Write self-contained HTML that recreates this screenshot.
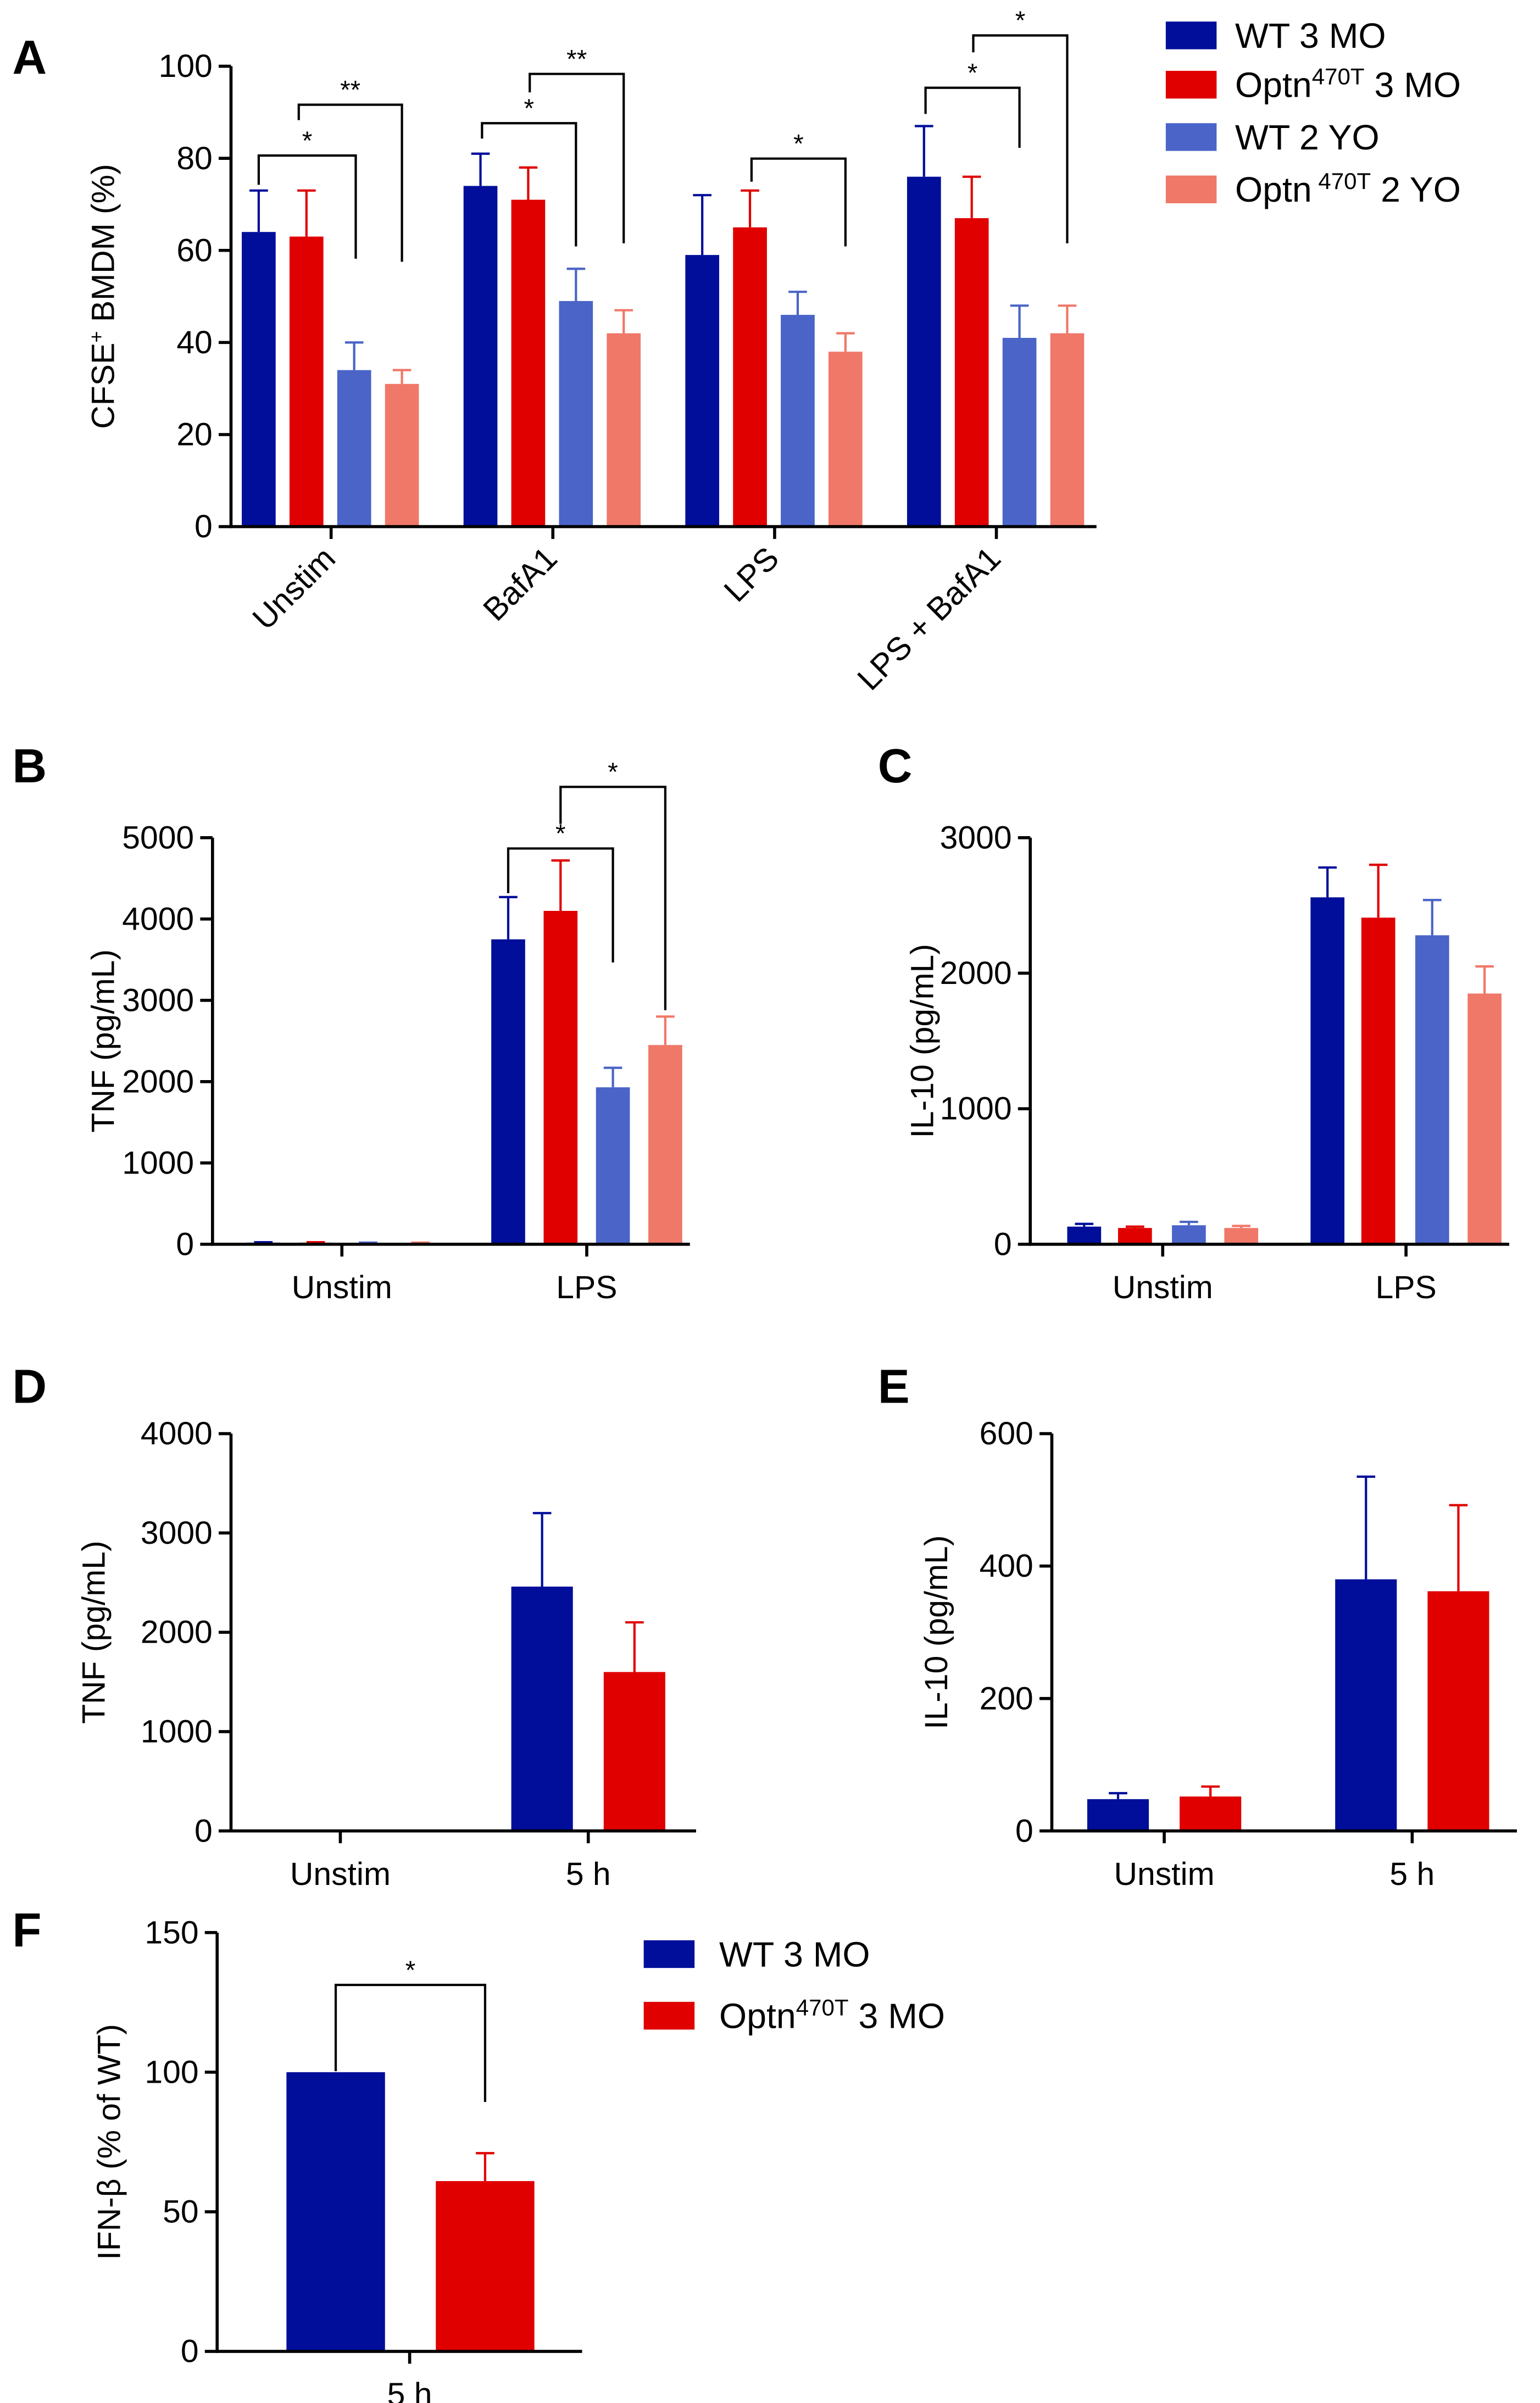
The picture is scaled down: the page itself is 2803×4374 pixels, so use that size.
<!DOCTYPE html>
<html><head><meta charset="utf-8"><style>
html,body{margin:0;padding:0;background:#fff}
svg{display:block}
text{font-family:"Liberation Sans",Arial,sans-serif;fill:#000}
</style></head><body>
<svg id="fig" width="2803" height="4374" viewBox="0 0 1000 1560.5" preserveAspectRatio="none" xmlns="http://www.w3.org/2000/svg"></svg>
<script>
const COLORS=['#000e9a','#e00000','#4a64c8','#f07868'];
// Panel A data
const catsA=['Unstim','BafA1','LPS','LPS + BafA1'];
const meanA=[[64,74,59,76],[63,71,65,67],[34,49,46,41],[31,42,38,42]];
const errA=[[73,81,72,87],[73,78,73,76],[40,56,51,48],[34,47,42,48]];
const ticksA=[0,20,40,60,80,100];
// Panel B
const catsB=['Unstim','LPS'];
const meanB=[[20,3750],[20,4100],[15,1930],[15,2450]];
const errB=[[25,4270],[25,4720],[20,2170],[20,2800]];
const ticksB=[0,1000,2000,3000,4000,5000];
// Panel C
const catsC=['Unstim','LPS'];
const meanC=[[130,2560],[120,2410],[140,2280],[120,1850]];
const errC=[[150,2780],[130,2800],[165,2540],[135,2050]];
const ticksC=[0,1000,2000,3000];
// Panel D
const catsD=['Unstim','5 h'];
const meanD=[[0,2460],[0,1600]];
const errD=[[0,3200],[0,2100]];
const ticksD=[0,1000,2000,3000,4000];
// Panel E
const catsE=['Unstim','5 h'];
const meanE=[[48,380],[52,362]];
const errE=[[57,535],[67,492]];
const ticksE=[0,200,400,600];
// Panel F
const catsF=['5 h'];
const meanF=[[100],[61]];
const errF=[[100],[71]];
const ticksF=[0,50,100,150];

const svg=document.getElementById('fig');
const NS='http://www.w3.org/2000/svg';
function mk(tag,attrs,name,parent){
  const el=document.createElementNS(NS,tag);
  for(const k in attrs)el.setAttribute(k,attrs[k]);
  
  
  (parent||svg).appendChild(el);return el;
}
function txt(x,y,s,size,name,extra){
  const t=mk('text',Object.assign({x:x,y:y,'font-size':size},extra||{}),name);
  t.innerHTML=s;return t;
}
function panel(o){
  const g=mk('g',{},o.name);
  const ys=v=>o.y0-(v/o.max)*(o.y0-o.yTop);
  o.mean.forEach((ser,s)=>{
    ser.forEach((v,i)=>{
      const cx=o.cx0+i*o.gap+o.off[s];
      const col=o.colors[s];
      const ey=ys(o.err[s][i]), by=ys(v);
      if(o.err[s][i]>v){
        mk('line',{x1:cx,x2:cx,y1:by,y2:ey,stroke:col,'stroke-width':1.5},'error-bar',g);
        mk('line',{x1:cx-6,x2:cx+6,y1:ey,y2:ey,stroke:col,'stroke-width':1.5},'error-cap',g);
      }
      mk('rect',{x:cx-o.bw/2,y:by,width:o.bw,height:Math.max(0,o.y0-by),fill:col},'bar-'+o.cats[i].replace(/\W+/g,'-').toLowerCase()+'-s'+s,g);
    });
  });
  mk('line',{x1:o.ax,x2:o.ax,y1:o.yTop,y2:o.y0+1,stroke:'#000','stroke-width':2},'y-axis',g);
  mk('line',{x1:o.ax-1,x2:o.xEnd,y1:o.y0,y2:o.y0,stroke:'#000','stroke-width':2},'x-axis',g);
  o.ticks.forEach(t=>{
    const y=ys(t);
    mk('line',{x1:o.ax-8,x2:o.ax,y1:y,y2:y,stroke:'#000','stroke-width':2},'y-tick',g);
    txt(o.ax-12,y+7,t,21,'y-tick-label',{'text-anchor':'end'});
  });
  o.cats.forEach((c,i)=>{
    const cx=o.cx0+i*o.gap+o.lblOff;
    mk('line',{x1:cx,x2:cx,y1:o.y0,y2:o.y0+8,stroke:'#000','stroke-width':2},'x-tick',g);
    if(o.rot) txt(cx+4,o.y0+22,c,21,'x-tick-label',{'text-anchor':'end',transform:'rotate(-45 '+(cx+4)+' '+(o.y0+22)+')'});
    else txt(cx,o.y0+35,c,21,'x-tick-label',{'text-anchor':'middle'});
  });
  const tx=o.titleX, ty=(o.y0+o.yTop)/2;
  txt(tx,ty,o.title,21,'y-axis-title',{'text-anchor':'middle',transform:'rotate(-90 '+tx+' '+ty+')'});
  txt(o.letterX,o.letterY,o.letter,31,'panel-label-'+o.letter.toLowerCase(),{'font-weight':'bold'});
  o.br.forEach(b=>{
    mk('path',{d:`M${b[0]} ${b[3]}V${b[2]}H${b[1]}V${b[4]}`,fill:'none',stroke:'#000','stroke-width':1.5},'significance-bracket',g);
    txt((b[0]+b[1])/2,b[2]-4,b[5],17,'significance-label',{'text-anchor':'middle'});
  });
}
panel({name:'panel-a',letter:'A',letterX:8,letterY:48,cats:catsA,mean:meanA,err:errA,ticks:ticksA,max:100,y0:342,yTop:43,ax:150,xEnd:712,cx0:215,gap:144,off:[-47,-16,15,46],lblOff:0,bw:22,colors:COLORS,rot:true,title:'CFSE<tspan baseline-shift="super" font-size="13">+</tspan> BMDM (%)',titleX:74,
 br:[[168,231,101,120,168,'*'],[194,261,68,78,170,'**'],[313,374,80,90,160,'*'],[344,405,48,60,158,'**'],[488,549,103,118,160,'*'],[601,662,57,74,96,'*'],[632,693,23,34,158,'*']]});
panel({name:'panel-b',letter:'B',letterX:8,letterY:508,cats:catsB,mean:meanB,err:errB,ticks:ticksB,max:5000,y0:808,yTop:544,ax:138,xEnd:448,cx0:222,gap:159,off:[-51,-17,17,51],lblOff:0,bw:22,colors:COLORS,rot:false,title:'TNF (pg/mL)',titleX:74,
 br:[[330,398,551,580,625,'*'],[364,432,511,535,656,'*']]});
panel({name:'panel-c',letter:'C',letterX:570,letterY:508,cats:catsC,mean:meanC,err:errC,ticks:ticksC,max:3000,y0:808,yTop:544,ax:669,xEnd:980,cx0:755,gap:158,off:[-51,-18,17,51],lblOff:0,bw:22,colors:COLORS,rot:false,title:'IL-10 (pg/mL)',titleX:606,br:[]});
panel({name:'panel-d',letter:'D',letterX:8,letterY:911,cats:catsD,mean:meanD,err:errD,ticks:ticksD,max:4000,y0:1189,yTop:931,ax:150,xEnd:452,cx0:221,gap:161,off:[-30,30],lblOff:0,bw:40,colors:COLORS,rot:false,title:'TNF (pg/mL)',titleX:68,br:[]});
panel({name:'panel-e',letter:'E',letterX:570,letterY:911,cats:catsE,mean:meanE,err:errE,ticks:ticksE,max:600,y0:1189,yTop:931,ax:683,xEnd:985,cx0:756,gap:161,off:[-30,30],lblOff:0,bw:40,colors:COLORS,rot:false,title:'IL-10 (pg/mL)',titleX:615,br:[]});
panel({name:'panel-f',letter:'F',letterX:8,letterY:1264,cats:catsF,mean:meanF,err:errF,ticks:ticksF,max:150,y0:1527,yTop:1255,ax:141,xEnd:378,cx0:266,gap:0,off:[-48,49],lblOff:0,bw:64,colors:COLORS,rot:false,title:'IFN-β (% of WT)',titleX:78,
 br:[[218,315,1289,1345,1365,'*']]});
const legLabels=['WT 3 MO','Optn<tspan baseline-shift="super" font-size="15">470T</tspan> 3 MO','WT 2 YO','Optn<tspan baseline-shift="super" font-size="15"> 470T</tspan> 2 YO'];
const legY=[23,55,89,123];
legLabels.forEach((l,i)=>{
  mk('rect',{x:757,y:legY[i]-9,width:33,height:18,fill:COLORS[i]},'legend-swatch',svg);
  txt(802,legY[i]+8,l,23,'legend-entry');
});
const legF=['WT 3 MO','Optn<tspan baseline-shift="super" font-size="15">470T</tspan> 3 MO'];
const legFY=[1269,1309];
legF.forEach((l,i)=>{
  mk('rect',{x:418,y:legFY[i]-9,width:33,height:18,fill:COLORS[i]},'legend-f-swatch',svg);
  txt(467,legFY[i]+8,l,23,'legend-f-entry');
});
</script>
</body></html>
